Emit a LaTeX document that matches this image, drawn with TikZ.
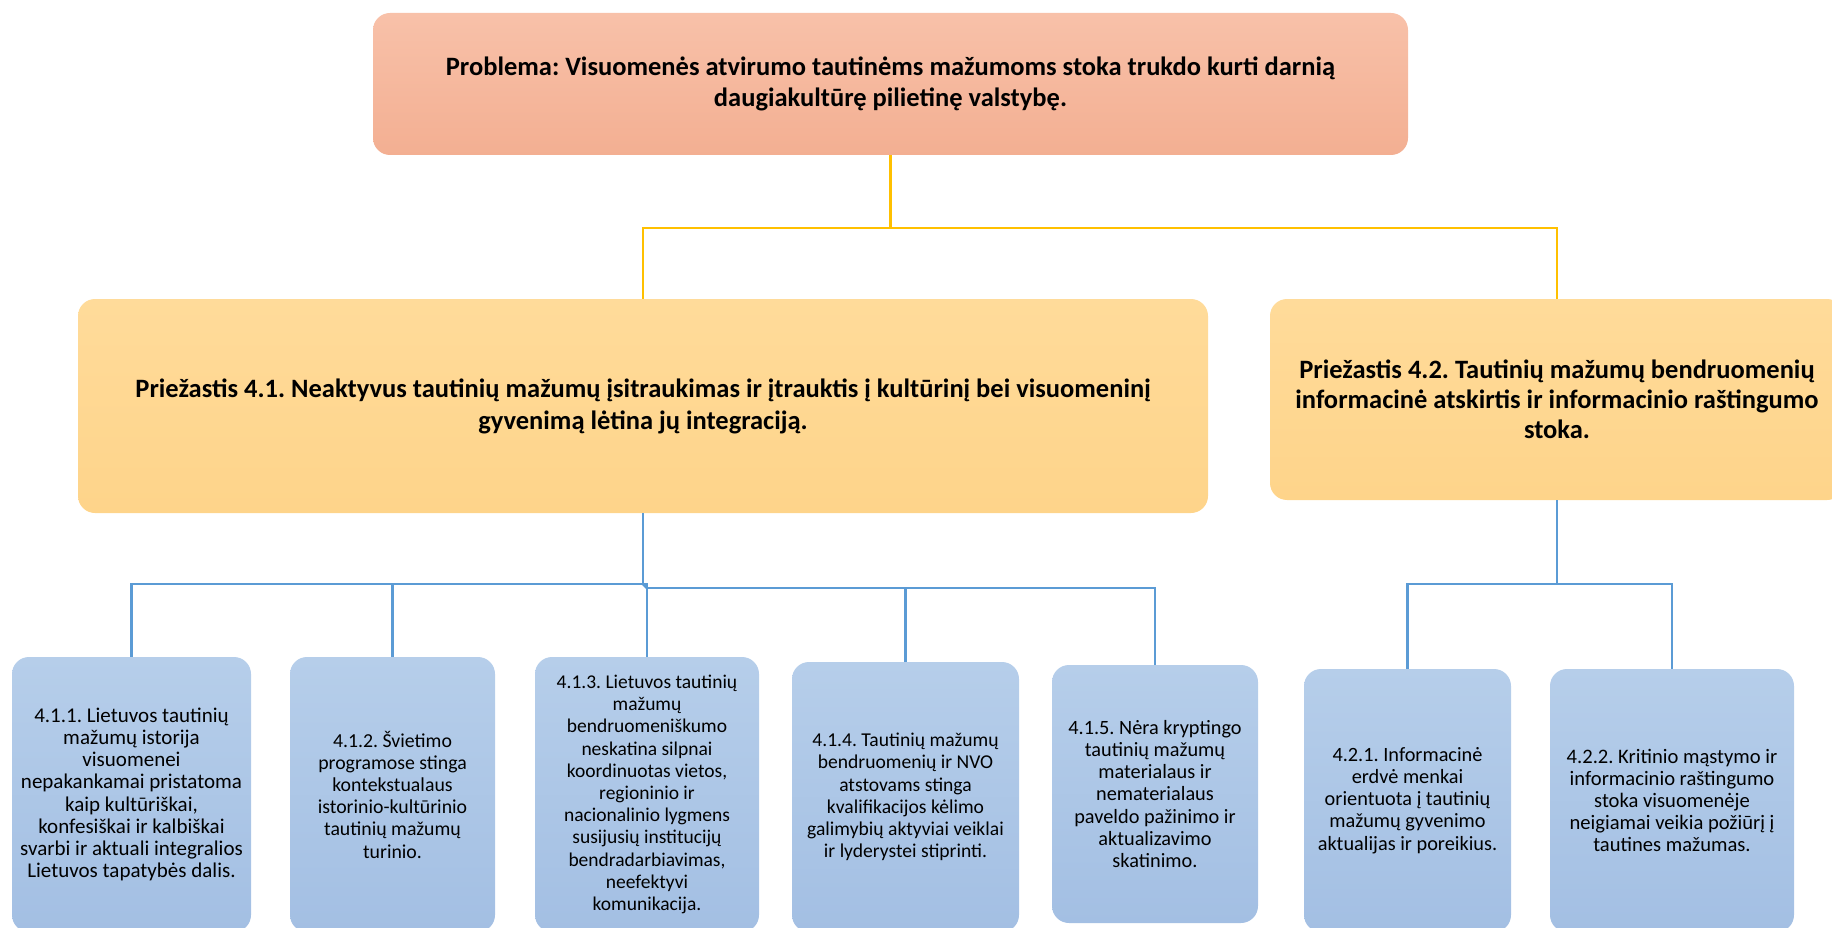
\documentclass[tikz,border=0pt]{standalone}
\usepackage{fontspec}
\setmainfont{Carlito}
\frenchspacing
\definecolor{probtop}{HTML}{F8C1A9}
\definecolor{probbot}{HTML}{F3AF92}
\definecolor{causetop}{HTML}{FFDB9A}
\definecolor{causebot}{HTML}{FED48A}
\definecolor{subtop}{HTML}{B6CEEA}
\definecolor{subbot}{HTML}{A3BFE3}
\definecolor{yline}{HTML}{FFC000}
\definecolor{bline}{HTML}{5B9BD5}
\newcommand{\subfont}[1]{\fontsize{#1}{22.2}\selectfont}
\tikzset{
  box/.style={rectangle, rounded corners=17pt, inner sep=0pt, align=center},
  probbox/.style={box, top color=probtop, bottom color=probbot,
    font=\fontsize{26.5}{31.5}\selectfont\bfseries},
  causebox/.style={box, top color=causetop, bottom color=causebot,
    font=\fontsize{26.5}{32}\selectfont\bfseries},
  subbox/.style={box, top color=subtop, bottom color=subbot, font=\subfont{20.3}},
  ylink/.style={draw=yline, line width=2.5pt},
  blink/.style={draw=bline, line width=2.5pt}
}
\begin{document}
\begin{tikzpicture}[x=1pt, y=-1pt]
\clip (0,0) rectangle (1832,928);

% problem
\node[probbox, minimum width=1035pt, minimum height=142pt] (prob) at (890.5,84)
  {Problema: Visuomenės atvirumo tautinėms mažumoms stoka trukdo kurti darnią\\
   daugiakultūrę pilietinę valstybę.};

% causes
\node[causebox, minimum width=1130pt, minimum height=214pt] (p41) at (643,406)
  {Priežastis 4.1. Neaktyvus tautinių mažumų įsitraukimas ir įtrauktis į kultūrinį bei visuomeninį\\
   gyvenimą lėtina jų integraciją.};
\node[causebox, minimum width=574pt, minimum height=201pt, font=\fontsize{26.5}{30}\selectfont\bfseries]
  (p42) at (1557,399.5)
  {Priežastis 4.2. Tautinių mažumų bendruomenių\\
   informacinė atskirtis ir informacinio raštingumo\\
   stoka.};

% sub-causes of 4.1
\node[subbox, font=\subfont{21}, minimum width=239pt, minimum height=275pt] (c411) at (131.5,794.5)
  {4.1.1. Lietuvos tautinių\\ mažumų istorija\\ visuomenei\\ nepakankamai pristatoma\\
   kaip kultūriškai,\\ konfesiškai ir kalbiškai\\ svarbi ir aktuali integralios\\
   Lietuvos tapatybės dalis.};
\node[subbox, font=\subfont{19.8}, minimum width=205pt, minimum height=275pt] (c412) at (392.5,794.5)
  {4.1.2. Švietimo\\ programose stinga\\ kontekstualaus\\ istorinio-kultūrinio\\
   tautinių mažumų\\ turinio.};
\node[subbox, font=\subfont{19.5}, minimum width=224pt, minimum height=275pt] (c413) at (647,794.5)
  {4.1.3. Lietuvos tautinių\\ mažumų\\ bendruomeniškumo\\ neskatina silpnai\\
   koordinuotas vietos,\\ regioninio ir\\ nacionalinio lygmens\\ susijusių institucijų\\
   bendradarbiavimas,\\ neefektyvi\\ komunikacija.};
\node[subbox, font=\subfont{19.6}, minimum width=227pt, minimum height=270pt] (c414) at (905.5,797)
  {4.1.4. Tautinių mažumų\\ bendruomenių ir NVO\\ atstovams stinga\\
   kvalifikacijos kėlimo\\ galimybių aktyviai veiklai\\ ir lyderystei stiprinti.};
\node[subbox, minimum width=206pt, minimum height=258pt] (c415) at (1155,794)
  {4.1.5. Nėra kryptingo\\ tautinių mažumų\\ materialaus ir\\ nematerialaus\\
   paveldo pažinimo ir\\ aktualizavimo\\ skatinimo.};

% sub-causes of 4.2
\node[subbox, minimum width=207pt, minimum height=263pt] (c421) at (1407.5,800.5)
  {4.2.1. Informacinė\\ erdvė menkai\\ orientuota į tautinių\\ mažumų gyvenimo\\
   aktualijas ir poreikius.};
\node[subbox, font=\subfont{20.6}, minimum width=244pt, minimum height=263pt] (c422) at (1672,800.5)
  {4.2.2. Kritinio mąstymo ir\\ informacinio raštingumo\\ stoka visuomenėje\\
   neigiamai veikia požiūrį į\\ tautines mažumas.};

% connectors
\coordinate (jtop) at (890.5,228);
\coordinate (j41) at (643,584);
\coordinate (j41b) at (647,588);
\coordinate (j42) at (1557,584);

\draw[ylink] (prob.south) -- (jtop);
\draw[ylink] (jtop) -| (p41.north);
\draw[ylink] (jtop) -| (p42.north);

\draw[blink] (p41.south) -- (j41);
\draw[blink] (j41) -| (c411.north);
\draw[blink] (j41) -| (c412.north);
\draw[blink] (j41) -| (c413.north);
\draw[blink] (j41) -- (j41b);
\draw[blink] (j41b) -| (c414.north);
\draw[blink] (j41b) -| (c415.north);

\draw[blink] (p42.south) -- (j42);
\draw[blink] (j42) -| (c421.north);
\draw[blink] (j42) -| (c422.north);

\end{tikzpicture}
\end{document}
